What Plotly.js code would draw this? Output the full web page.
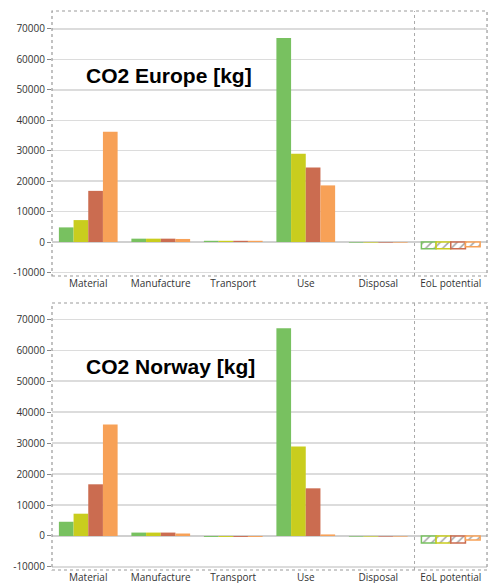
<!DOCTYPE html>
<html>
<head>
<meta charset="utf-8">
<script src="https://cdn.plot.ly/plotly-3.0.1.min.js"></script>
<style>html,body{margin:0;padding:0;background:#fff;}#chart{width:488px;height:583px;}</style>
</head>
<body>
<div id="chart"></div>
<script>
const categories = ["Material", "Manufacture", "Transport", "Use", "Disposal", "EoL potential"];
const seriesColors = ["#78c160", "#c9cd1e", "#cb6c50", "#f7a157"];
const yTicks = [-10000, 0, 10000, 20000, 30000, 40000, 50000, 60000, 70000];

const europeS1 = [4800, 1100, 400, 67000, -200, -2200];
const europeS2 = [7200, 1100, 400, 29000, -200, -2200];
const europeS3 = [16800, 1100, 400, 24500, -200, -2200];
const europeS4 = [36200, 1000, 400, 18600, -200, -1600];

const norwayS1 = [4600, 1100, -300, 67100, -200, -2300];
const norwayS2 = [7200, 1100, -300, 28900, -200, -2300];
const norwayS3 = [16700, 1100, -300, 15400, -200, -2300];
const norwayS4 = [36000, 800, -300, 500, -200, -1300];

const panels = [
  {title: "CO2 Europe [kg]", series: [europeS1, europeS2, europeS3, europeS4], x: "x", y: "y"},
  {title: "CO2 Norway [kg]", series: [norwayS1, norwayS2, norwayS3, norwayS4], x: "x2", y: "y2"}
];

const hatchIndex = categories.length - 1;
const traces = [];
panels.forEach(function (p) {
  p.series.forEach(function (vals, i) {
    const col = seriesColors[i];
    traces.push({
      type: "bar",
      x: categories,
      y: vals,
      xaxis: p.x,
      yaxis: p.y,
      showlegend: false,
      hoverinfo: "skip",
      marker: {
        color: categories.map((c, k) => k === hatchIndex ? "#ffffff" : col),
        line: {
          color: col,
          width: categories.map((c, k) => k === hatchIndex ? 1.5 : 0)
        },
        pattern: {
          shape: categories.map((c, k) => k === hatchIndex ? "/" : ""),
          fgcolor: col,
          bgcolor: "#ffffff",
          size: 6,
          solidity: 0.25,
          fillmode: "overlay"
        }
      }
    });
  });
});

const axisFont = {family: "Open Sans, DejaVu Sans, sans-serif", size: 10, color: "#333"};
function xAxis(anchor) {
  return {
    domain: [52 / 488, 0.998],
    anchor: anchor,
    type: "category",
    tickfont: axisFont,
    showgrid: false,
    zeroline: false,
    showline: false,
    ticks: "",
    mirror: false
  };
}
function yAxis(anchor, domain, range) {
  return {
    domain: domain,
    anchor: anchor,
    range: range,
    tickvals: yTicks,
    ticktext: yTicks.map(String),
    tickfont: axisFont,
    ticks: "outside",
    ticklen: 4,
    tickcolor: "#888",
    showgrid: true,
    gridcolor: "#dcdcdc",
    gridwidth: 1.5,
    zeroline: true,
    zerolinecolor: "#d0d0d0",
    zerolinewidth: 2,
    showline: false
  };
}

const shapes = [];
const annotations = [];
[["x", "y"], ["x2", "y2"]].forEach(function (ax, idx) {
  // plot frame (dotted gray)
  shapes.push({type: "rect", xref: ax[0] + " domain", yref: ax[1] + " domain", x0: 0, x1: 1, y0: 0, y1: 1,
    line: {color: "#999", width: 1.2, dash: "dot"}, layer: "above"});
  // separator before last category
  shapes.push({type: "line", xref: ax[0], yref: ax[1] + " domain", x0: hatchIndex - 0.5, x1: hatchIndex - 0.5, y0: 0, y1: 1,
    line: {color: "#aaa", width: 1, dash: "dot"}});
  annotations.push({
    text: "<b>" + panels[idx].title + "</b>",
    xref: ax[0] + " domain", yref: ax[1] + " domain",
    x: 0.074, y: idx === 0 ? 0.757 : 0.762,
    xanchor: "left", yanchor: "middle",
    showarrow: false,
    font: {family: "Liberation Sans, Arial, sans-serif", size: 21, color: "#000"}
  });
});

const layout = {
  width: 488,
  height: 583,
  margin: {l: 0, r: 0, t: 0, b: 0},
  paper_bgcolor: "#ffffff",
  plot_bgcolor: "#ffffff",
  barmode: "group",
  bargap: 0.19,
  bargroupgap: 0,
  xaxis: xAxis("y"),
  xaxis2: xAxis("y2"),
  yaxis: yAxis("x", [1 - 276 / 583, 1 - 11 / 583], [-11170, 75900]),
  yaxis2: yAxis("x2", [1 - 570 / 583, 1 - 303 / 583], [-10990, 75280]),
  shapes: shapes,
  annotations: annotations
};

Plotly.newPlot("chart", traces, layout, {staticPlot: true, displayModeBar: false});
</script>
</body>
</html>
